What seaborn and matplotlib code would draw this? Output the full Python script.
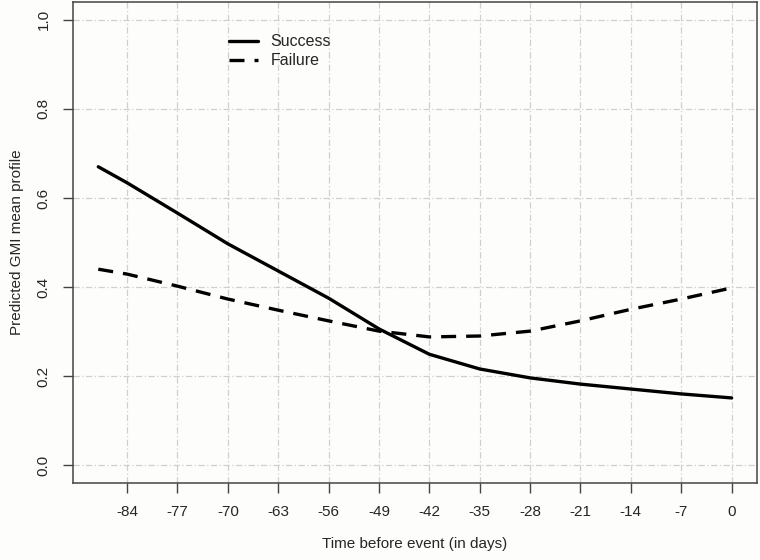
import pandas as pd
import matplotlib
matplotlib.use("Agg")
import matplotlib.pyplot as plt
import seaborn as sns

# days before event
days = [-88, -84, -77, -70, -63, -56, -49, -42, -35, -28, -21, -14, -7, 0]
# predicted GMI mean profile
success = [0.670, 0.634, 0.566, 0.497, 0.436, 0.375, 0.306, 0.249, 0.216, 0.196, 0.182, 0.171, 0.160, 0.151]
failure = [0.440, 0.429, 0.402, 0.373, 0.348, 0.324, 0.301, 0.288, 0.290, 0.301, 0.324, 0.350, 0.373, 0.398]
groups = ["Success", "Failure"]
x_ticks = [-84, -77, -70, -63, -56, -49, -42, -35, -28, -21, -14, -7, 0]
y_ticks = [0.0, 0.2, 0.4, 0.6, 0.8, 1.0]

df = pd.concat([
    pd.DataFrame({"day": days, "gmi": success, "group": groups[0]}),
    pd.DataFrame({"day": days, "gmi": failure, "group": groups[1]}),
])

sns.set_style("white")
plt.rcParams["font.family"] = ["Liberation Sans", "DejaVu Sans"]

fig = plt.figure(figsize=(7.6, 5.6), dpi=100, facecolor="#fdfdfb")
ax = fig.add_axes([0.096, 0.1375, 0.9, 0.859])
ax.set_facecolor("#fdfdfb")

sns.lineplot(data=df, x="day", y="gmi", style="group", style_order=groups,
             dashes={"Success": "", "Failure": (4.5, 3)},
             color="black", linewidth=2.4, ax=ax, sort=False)

ax.set_xlim(-91.52, 3.52)
ax.set_ylim(-0.04, 1.04)
ax.set_xticks(x_ticks)
ax.set_yticks(y_ticks)
ax.set_xticklabels([str(v) for v in x_ticks], fontsize=11)
ax.set_yticklabels([f"{v:.1f}" for v in y_ticks], fontsize=11, rotation=90, va="center")
ax.grid(True, color="#cfcfcf", linestyle=(0, (5, 2, 1, 2)), linewidth=0.9)
ax.tick_params(axis="both", direction="out", length=7, width=1, color="#444444",
               bottom=True, left=True, pad=9)

for s in ax.spines.values():
    s.set_color("#444444")
    s.set_linewidth(1.1)

ax.set_xlabel("Time before event (in days)", fontsize=11, labelpad=13)
ax.set_ylabel("Predicted GMI mean profile", fontsize=11, labelpad=9)

leg = ax.legend(loc="upper left", bbox_to_anchor=(0.207, 0.963), frameon=False,
                fontsize=11.5, handlelength=1.8, handletextpad=0.8,
                labelspacing=0.25, title=None)

fig.savefig("out.png", dpi=100, facecolor=fig.get_facecolor())
